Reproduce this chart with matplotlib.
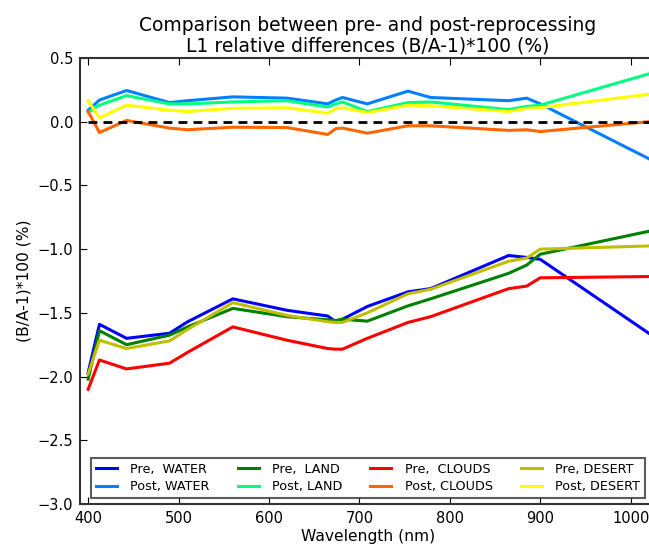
import matplotlib
matplotlib.use("Agg")
import matplotlib.pyplot as plt

wavelength = [400, 412.5, 442.5, 490, 510, 560, 620, 665, 673.75, 681.25,
              708.75, 753.75, 778.75, 865, 885, 900, 1020]

pre_water = [-1.97, -1.59, -1.70, -1.66, -1.57, -1.39, -1.48, -1.525, -1.57, -1.55,
             -1.45, -1.335, -1.31, -1.05, -1.065, -1.08, -1.66]
post_water = [0.09, 0.17, 0.245, 0.15, 0.165, 0.195, 0.185, 0.14, 0.17, 0.19,
              0.14, 0.24, 0.19, 0.165, 0.185, 0.14, -0.29]
pre_land = [-2.02, -1.64, -1.75, -1.675, -1.61, -1.465, -1.53, -1.555, -1.56, -1.55,
            -1.565, -1.445, -1.39, -1.19, -1.125, -1.04, -0.86]
post_land = [0.075, 0.13, 0.205, 0.14, 0.14, 0.155, 0.165, 0.115, 0.14, 0.155,
             0.08, 0.15, 0.155, 0.095, 0.12, 0.13, 0.375]
pre_clouds = [-2.10, -1.87, -1.94, -1.895, -1.81, -1.61, -1.715, -1.78, -1.785, -1.785,
              -1.70, -1.575, -1.53, -1.31, -1.29, -1.225, -1.215]
post_clouds = [0.08, -0.085, 0.01, -0.05, -0.063, -0.043, -0.046, -0.10, -0.055, -0.05,
               -0.09, -0.032, -0.032, -0.068, -0.063, -0.077, 0.0]
pre_desert = [-1.98, -1.715, -1.78, -1.72, -1.63, -1.42, -1.52, -1.57, -1.575, -1.575,
              -1.50, -1.35, -1.315, -1.095, -1.07, -1.0, -0.975]
post_desert = [0.165, 0.03, 0.13, 0.09, 0.08, 0.105, 0.11, 0.067, 0.10, 0.11,
               0.072, 0.13, 0.125, 0.08, 0.105, 0.11, 0.215]

series = [
    ("Pre,  WATER", pre_water, "#0000ff"),
    ("Post, WATER", post_water, "#0080ff"),
    ("Pre,  LAND", pre_land, "#008000"),
    ("Post, LAND", post_land, "#00ff80"),
    ("Pre,  CLOUDS", pre_clouds, "#ff0000"),
    ("Post, CLOUDS", post_clouds, "#ff6600"),
    ("Pre, DESERT", pre_desert, "#bfbf00"),
    ("Post, DESERT", post_desert, "#ffff00"),
]

x_ticks = [400, 500, 600, 700, 800, 900, 1000]
y_ticks = [0.5, 0.0, -0.5, -1.0, -1.5, -2.0, -2.5, -3.0]

plt.rcParams['font.family'] = ['DejaVu Sans']
fig = plt.figure(figsize=(6.49, 5.46), dpi=100)
ax = fig.add_axes([80 / 649, 42 / 546, 576 / 649, 446 / 546])

for label, vals, color in series:
    ax.plot(wavelength, vals, color=color, lw=2.2, label=label)

ax.plot([wavelength[0], wavelength[-1]], [0, 0], color="black", lw=2, ls=(0, (3.2, 2.2)))

ax.set_xlim(391, 1028)
ax.set_ylim(-3.0, 0.5)
ax.set_xticks(x_ticks)
ax.set_yticks(y_ticks)
ax.tick_params(direction="in", top=True, right=True, length=5, width=0.8,
               labelsize=10.5, pad=5)
for s in ax.spines.values():
    s.set_linewidth(1.5)
    s.set_color("#333333")

ax.set_xlabel("Wavelength (nm)", fontsize=11.2, labelpad=2)
ax.set_ylabel("(B/A-1)*100 (%)", fontsize=11.2)
ax.set_title("Comparison between pre- and post-reprocessing\nL1 relative differences (B/A-1)*100 (%)",
             fontsize=13.5, pad=5, linespacing=1.1)

leg = ax.legend(loc="lower center", ncol=4, fontsize=9.2, handlelength=1.64,
                handletextpad=1.04, labelspacing=0.35, borderpad=0.4,
                frameon=True, fancybox=False, borderaxespad=0.45, columnspacing=2.2)
leg.get_frame().set_edgecolor("#333333")
leg.get_frame().set_linewidth(1.5)

fig.savefig("out.png", dpi=100)
